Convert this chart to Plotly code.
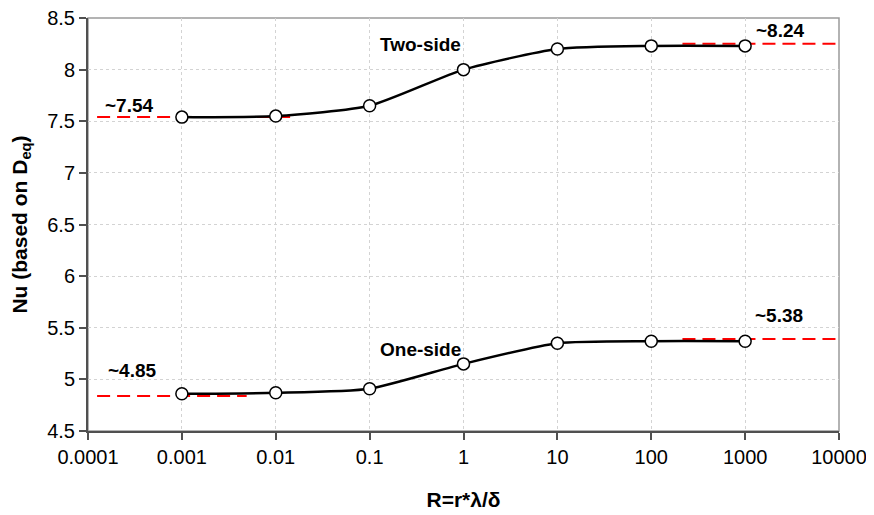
import math
import plotly.graph_objects as go

# ---- data ----
R = [0.001, 0.01, 0.1, 1, 10, 100, 1000]
nu_two_side = [7.54, 7.55, 7.65, 8.00, 8.20, 8.23, 8.23]
nu_one_side = [4.86, 4.87, 4.91, 5.15, 5.35, 5.37, 5.37]

# asymptote reference lines (red dashed): x-extent and level
asym_two_low_x = [1.25e-4, 0.0168]
asym_two_low_y = 7.54
asym_two_high_x = [215, 9300]
asym_two_high_y = 8.25
asym_one_low_x = [1.25e-4, 0.0049]
asym_one_low_y = 4.84
asym_one_high_x = [215, 9300]
asym_one_high_y = 5.39

x_ticks = [0.0001, 0.001, 0.01, 0.1, 1, 10, 100, 1000, 10000]
x_tick_labels = ["0.0001", "0.001", "0.01", "0.1", "1", "10", "100", "1000", "10000"]
y_ticks = [4.5, 5, 5.5, 6, 6.5, 7, 7.5, 8, 8.5]
y_tick_labels = ["4.5", "5", "5.5", "6", "6.5", "7", "7.5", "8", "8.5"]

# annotation texts and their anchor points (data coordinates)
ann_texts = ["~7.54", "Two-side", "~8.24", "One-side", "~4.85", "~5.38"]
ann_x = [2.8e-4, 0.352, 2400, 0.352, 3.0e-4, 2300]
ann_y = [7.65, 8.24, 8.377, 5.29, 5.09, 5.62]

FONT = "Liberation Sans, Arial, sans-serif"

fig = go.Figure()

dash_style = dict(color="#ff0000", width=2, dash="13px,7px")
for xs, yv in [(asym_two_low_x, asym_two_low_y), (asym_two_high_x, asym_two_high_y),
               (asym_one_low_x, asym_one_low_y), (asym_one_high_x, asym_one_high_y)]:
    fig.add_trace(go.Scatter(x=xs, y=[yv, yv], mode="lines", line=dash_style,
                             showlegend=False, hoverinfo="skip"))

marker_style = dict(symbol="circle", size=12, color="white", line=dict(color="black", width=1.5))
for ys, name in [(nu_two_side, "Two-side"), (nu_one_side, "One-side")]:
    fig.add_trace(go.Scatter(x=R, y=ys, mode="lines+markers", name=name,
                             line=dict(color="black", width=2.5, shape="spline", smoothing=0.6),
                             marker=marker_style, showlegend=False))

ann_font = dict(family=FONT, size=19, color="black")
for text, x, y in zip(ann_texts, ann_x, ann_y):
    # log axis: annotation x is given in log10 units
    fig.add_annotation(x=math.log10(x), y=y, xref="x", yref="y", text=f"<b>{text}</b>",
                       showarrow=False, font=ann_font, xanchor="center", yanchor="middle")

# plot border (gray) under axis lines
fig.add_shape(type="rect", xref="paper", yref="paper", x0=0, y0=0, x1=1, y1=1,
              line=dict(color="#9a9a9a", width=1.5), layer="below")

fig.update_xaxes(type="log", range=[-4, 4], tickvals=x_ticks, ticktext=x_tick_labels,
                 showgrid=True, gridcolor="#d3d3d3", griddash="dot", gridwidth=1,
                 showline=True, linecolor="#505050", linewidth=2,
                 ticks="outside", ticklen=7, tickcolor="#505050", tickwidth=1.5,
                 tickfont=dict(family=FONT, size=20, color="black"),
                 ticklabeloverflow="allow",
                 title=dict(text="<b>R=r*λ/δ</b>", font=dict(family=FONT, size=21, color="black"),
                            standoff=25),
                 automargin=False, zeroline=False)
fig.update_yaxes(range=[4.5, 8.5], tickvals=y_ticks, ticktext=y_tick_labels,
                 showgrid=True, gridcolor="#d3d3d3", griddash="dot", gridwidth=1,
                 showline=True, linecolor="#505050", linewidth=2,
                 ticks="outside", ticklen=7, tickcolor="#505050", tickwidth=1.5,
                 tickfont=dict(family=FONT, size=20, color="black"),
                 ticklabeloverflow="allow",
                 title=dict(text="<b>Nu (based on D<sub>eq</sub>)</b>",
                            font=dict(family=FONT, size=21, color="black"), standoff=14),
                 automargin=False, zeroline=False)

# page body has an 8px default margin, so the figure is sized 8px smaller
fig.update_layout(width=866, height=507, autosize=False,
                  margin=dict(l=80, r=35, t=10, b=84),
                  plot_bgcolor="white", paper_bgcolor="white",
                  font=dict(family=FONT))

fig.write_html("out.html")
